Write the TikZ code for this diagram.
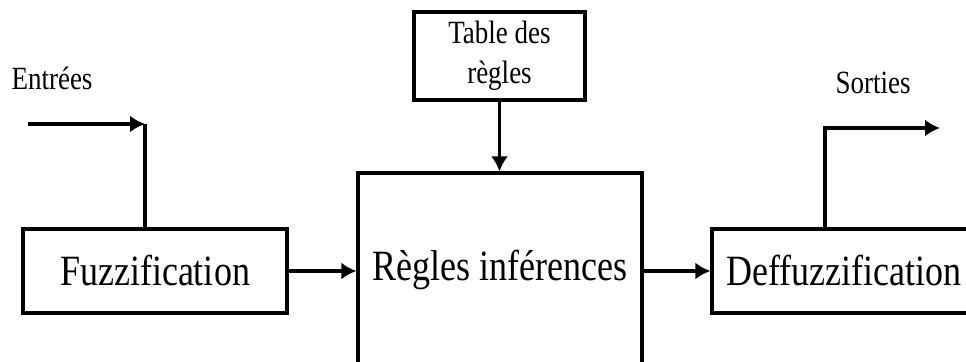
\documentclass[tikz,border=0pt]{standalone}
\usepackage{fontspec}
\usepackage{graphicx}
\setmainfont{Liberation Serif}
\usetikzlibrary{arrows.meta}
\newcommand{\etire}[1]{\scalebox{1}[1.2]{#1}}
\tikzset{
  bloc/.style={draw, line width=1.6pt, minimum width=132pt, minimum height=42pt, inner sep=0pt, font=\fontsize{18}{22}\selectfont},
  etiquette/.style={font=\fontsize{13.5}{20}\selectfont, align=center},
  fleche/.style={line width=1.6pt, -{Latex[length=7.5pt,width=8.5pt]}},
  lien/.style={line width=1.6pt}
}
\begin{document}
\begin{tikzpicture}[x=0.5pt,y=-0.5pt]
\useasboundingbox (0,0) rectangle (966,362);
\clip (0,0) rectangle (966,362);
\node[bloc] (fuzz) at (155,271) {\etire{Fuzzification}};
\node[bloc, minimum width=142pt, minimum height=96.5pt] (regles) at (500,269.5) {\etire{Règles inférences}};
\node[bloc] (deff) at (844,271) {\etire{Deffuzzification}};
\node[bloc, etiquette, minimum width=85.5pt, minimum height=44pt] (table) at (499.5,56) {\etire{Table des}\\\etire{règles}};
\node[etiquette] (entrees) at (52,78) {\etire{Entrées}};
\node[etiquette] (sorties) at (873,83) {\etire{Sorties}};
\coordinate (in) at (28,124);
\coordinate (coude) at (145,124);
\coordinate (out) at (940,128);
\draw[fleche] (in) -- (coude);
\draw[lien] (coude) -- (coude |- fuzz.north);
\draw[fleche] (fuzz.east) -- (fuzz.east -| regles.west);
\draw[fleche] (table) -- (table |- regles.north);
\draw[fleche] (deff.west -| regles.east) -- (deff.west);
\draw[fleche] ([xshift=-9.5pt]deff.north) |- (out);
\end{tikzpicture}
\end{document}
